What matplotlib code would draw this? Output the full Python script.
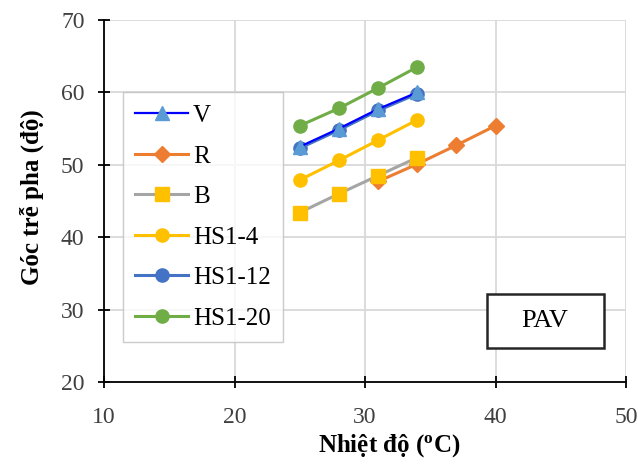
import matplotlib.pyplot as plt
from matplotlib.patches import Rectangle

plt.rcParams['font.family'] = ['Liberation Serif', 'DejaVu Serif']

TEMP = [25, 28, 31, 34]
TEMP_R = [31, 34, 37, 40]

V = [52.5, 55.0, 57.7, 60.0]
R = [47.7, 50.1, 52.7, 55.4]
B = [43.4, 46.0, 48.5, 51.0]
HS1_4 = [47.9, 50.6, 53.4, 56.2]
HS1_12 = [52.3, 54.8, 57.5, 59.8]
HS1_20 = [55.4, 57.8, 60.6, 63.5]

XTICKS = [10, 20, 30, 40, 50]
YTICKS = [20, 30, 40, 50, 60, 70]


def main():
    fig = plt.figure(figsize=(6.38, 4.66), dpi=100)
    ax = fig.add_axes([104 / 638, 84 / 466, 522 / 638, 362 / 466])

    lw, ms = 2.2, 9.5
    ax.plot(TEMP, V, color='#0000FF', lw=1.6, marker='^', ms=ms + 1,
            mfc='#5B9BD5', mec='#5B9BD5', label='V', zorder=6)
    ax.plot(TEMP_R, R, color='#ED7D31', lw=lw, marker='D', ms=ms - 1,
            label='R', zorder=3)
    ax.plot(TEMP, B, color='#A5A5A5', lw=lw, marker='s', ms=ms,
            mfc='#FFC000', mec='#FFC000', label='B', zorder=4)
    ax.plot(TEMP, HS1_4, color='#FFC000', lw=lw, marker='o', ms=ms,
            label='HS1-4', zorder=4)
    ax.plot(TEMP, HS1_12, color='#4472C4', lw=lw, marker='o', ms=ms,
            label='HS1-12', zorder=5)
    ax.plot(TEMP, HS1_20, color='#70AD47', lw=lw, marker='o', ms=ms,
            label='HS1-20', zorder=4)

    ax.set_xlim(10, 50)
    ax.set_ylim(20, 70)
    ax.set_xticks(XTICKS)
    ax.set_yticks(YTICKS)
    ax.grid(color='#D9D9D9', lw=1.3)
    ax.set_axisbelow(True)
    for side in ['top', 'right']:
        ax.spines[side].set_visible(False)
    for side in ['left', 'bottom']:
        ax.spines[side].set_color('#000000')
        ax.spines[side].set_linewidth(1.3)
    ax.tick_params(direction='inout', length=8, width=1.3,
                   labelsize=17, colors='#000000', labelcolor='#404040')
    ax.tick_params(axis='x', pad=14)
    ax.tick_params(axis='y', pad=10)

    ax.set_xlabel(r'Nhiệt độ ($\mathregular{^{o}}$C)', fontsize=18, fontweight='bold')
    ax.set_ylabel('Góc trễ pha (độ)', fontsize=18, fontweight='bold')
    ax.xaxis.set_label_coords((389 - 104) / 522, -0.138)
    ax.yaxis.set_label_coords(-0.115, 0.51)

    leg = ax.legend(loc='upper left', bbox_to_anchor=(0.036, 0.801),
                    fontsize=18, frameon=True, fancybox=False,
                    edgecolor='#BFBFBF', borderpad=0.5, labelspacing=0.72,
                    handlelength=2.1, handletextpad=0.2, borderaxespad=0)
    leg.get_frame().set_linewidth(1.0)
    leg.set_zorder(10)

    # label box in the lower right corner
    ax.add_patch(Rectangle((0.734, 0.094), 0.224, 0.149, transform=ax.transAxes,
                           fc='white', ec='#262626', lw=1.8, zorder=10))
    ax.text(0.845, 0.169, 'PAV', transform=ax.transAxes, fontsize=19,
            ha='center', va='center', zorder=11)

    fig.savefig('out.png')


if __name__ == "__main__":
    main()
